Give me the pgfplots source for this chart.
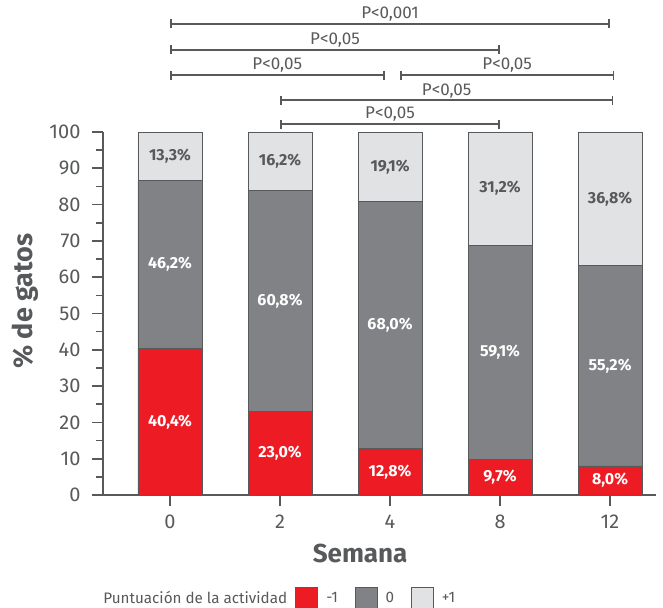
\documentclass[border=0pt]{standalone}
\usepackage{fontspec}
\setmainfont{Fira Sans}
\usepackage{pgfplots}
\usepackage{pgfplotstable}
\usetikzlibrary{arrows.meta}
\pgfplotsset{compat=1.18}
\definecolor{cred}{HTML}{ED1C24}
\definecolor{cgray}{HTML}{808285}
\definecolor{clight}{HTML}{E1E2E4}
\definecolor{ctext}{HTML}{58595B}
\definecolor{cline}{HTML}{58595B}
\pgfplotstableread{
x neg zero pos
0 40.4 46.2 13.3
1 23.0 60.8 16.2
2 12.8 68.0 19.1
3 9.7 59.1 31.2
4 8.0 55.2 36.8
}\datatable
\newcommand{\brk}[4]{%
  \draw[cline,line width=1.4pt,{Bar[width=9pt,line width=1.6pt]}-{Bar[width=9pt,line width=1.6pt]}] (axis cs:#1,#3) -- (axis cs:#2,#3)
     node[midway,above,inner sep=1.5pt,text=ctext,font=\fontsize{17}{19}\selectfont] {#4};
}
\begin{document}
\begin{tikzpicture}
\useasboundingbox (-103pt,-112pt) rectangle (560pt,495pt);
\begin{axis}[
  at={(0,0)}, anchor=south west,
  scale only axis, width=553pt, height=363pt,
  xmin=-0.609, xmax=4.418, ymin=0, ymax=100,
  clip=false,
  axis lines=left,
  axis line style={-, cline, line width=1.6pt},
  ybar stacked, bar width=64pt,
  xtick={0,1,2,3,4}, xticklabels={0,2,4,8,12},
  ytick={0,10,...,100}, minor y tick num=1,
  tick align=outside, major tick length=11pt, minor tick length=7pt,
  tick style={cline, line width=1.6pt},
  every tick label/.append style={text=ctext, font=\fontsize{20}{22}\selectfont},
  yticklabel style={xshift=-8pt},
  xticklabel style={yshift=-5pt},
  /pgf/number format/assume math mode=true,
  ylabel={\% de gatos},
  ylabel style={at={(axis description cs:-0.141,0.534)}, anchor=center, rotate=0,
     font=\bfseries\fontsize{27}{30}\selectfont, text=ctext},
  xlabel={Semana},
  xlabel style={at={(axis description cs:0.465,-0.160)}, anchor=center,
     font=\bfseries\fontsize{26}{29}\selectfont, text=ctext},
  point meta=explicit,
  nodes near coords={\pgfmathprintnumber[fixed,fixed zerofill,precision=1,use comma]{\pgfplotspointmeta}\%},
  every node near coord/.style={anchor=center, font=\bfseries\fontsize{16}{18}\selectfont},
  legend columns=-1,
  legend style={at={(axis description cs:-0.014,-0.284)}, anchor=west, draw=none, fill=none,
     inner sep=0pt, font=\fontsize{15.2}{18}\selectfont, text=ctext,
     /tikz/every even column/.append style={column sep=15pt},
     /tikz/every odd column/.append style={column sep=6pt}},
  legend image code/.code={\draw[#1,line width=0.8pt] (0pt,-11pt) rectangle (22pt,11pt);},
]
\addlegendimage{empty legend}
\addlegendentry{\makebox[175pt][l]{Puntuación de la actividad}}
\addplot[fill=cred, draw=cline, line width=0.8pt, every node near coord/.append style={text=white}]
  table[x=x,y=neg,meta=neg] {\datatable};
\addlegendentry{-1}
\addplot[fill=cgray, draw=cline, line width=0.8pt, every node near coord/.append style={text=white}]
  table[x=x,y=zero,meta=zero] {\datatable};
\addlegendentry{0}
\addplot[fill=clight, draw=cline, line width=0.8pt, every node near coord/.append style={text=ctext}]
  table[x=x,y=pos,meta=pos] {\datatable};
\addlegendentry{+1}
\brk{0}{4}{129.8}{P<0,001}
\brk{0}{3}{122.6}{P<0,05}
\brk{0}{1.95}{115.7}{P<0,05}
\brk{2.09}{4.04}{115.7}{P<0,05}
\brk{1}{4.03}{108.8}{P<0,05}
\brk{1}{3}{102.2}{P<0,05}
\end{axis}
\end{tikzpicture}
\end{document}
